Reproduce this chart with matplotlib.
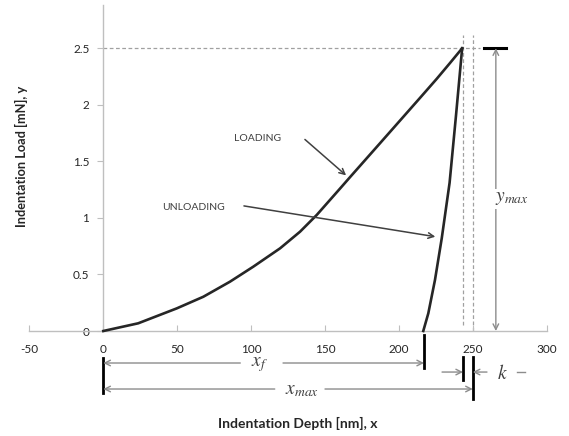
import matplotlib
matplotlib.use("Agg")
import matplotlib.pyplot as plt

plt.rcParams['font.family'] = ['Lato', 'DejaVu Sans']
plt.rcParams['mathtext.fontset'] = 'stix'

# ---- data ----
loading_x = [0, 23.6, 49.7, 67.7, 85.7, 101.5, 119.6, 133.1, 144.4, 160.2, 166.9,
             187.2, 200.7, 214.2, 225.6, 234.6, 242.8]
loading_y = [0, 0.068, 0.20, 0.303, 0.436, 0.569, 0.731, 0.878, 1.026, 1.26, 1.36,
             1.66, 1.86, 2.06, 2.23, 2.37, 2.5]
unloading_x = [242.8, 238.6, 234.3, 229.0, 224.4, 219.9, 216.5]
unloading_y = [2.5, 1.90, 1.31, 0.82, 0.45, 0.156, 0.0]
x_ticks = [-50, 0, 50, 100, 150, 200, 250, 300]
y_ticks = [0, 0.5, 1, 1.5, 2, 2.5]
y_tick_labels = ['0', '0.5', '1', '1.5', '2', '2.5']
x_max_val = 250
x_f_val = 217
peak_x = 243.4
y_max_val = 2.5

fig = plt.figure(figsize=(5.69, 4.36), dpi=100)
ax = fig.add_axes([0, 0, 1, 1])
ax.set_xlim(-69.9, 315.1)
ax.set_ylim(-0.9285, 2.927)
ax.patch.set_alpha(0)

axis_col = '#bfbfbf'
for s in ['top', 'right']:
    ax.spines[s].set_visible(False)
ax.spines['left'].set_position(('data', 0))
ax.spines['bottom'].set_position(('data', 0))
ax.spines['left'].set_bounds(0, 2.883)
ax.spines['bottom'].set_bounds(-50, 300)
ax.spines['left'].set_color(axis_col)
ax.spines['bottom'].set_color(axis_col)
ax.spines['left'].set_linewidth(1.0)
ax.spines['bottom'].set_linewidth(1.0)

ax.set_xticks(x_ticks)
ax.set_xticklabels([str(t) for t in x_ticks])
ax.set_yticks(y_ticks)
ax.set_yticklabels(y_tick_labels)
ax.tick_params(axis='x', direction='in', length=4, color=axis_col, pad=9,
               labelsize=8.5, labelcolor='#262626')
ax.tick_params(axis='y', direction='out', length=4, color=axis_col, pad=6,
               labelsize=8.5, labelcolor='#262626')

# guide dashed lines
dash_col = '#a0a0a0'
ax.plot([0, 255], [2.5, 2.5], ls=(0, (3, 2)), color=dash_col, lw=0.9, zorder=1)
ax.plot([peak_x, peak_x], [0.05, 2.62], ls=(0, (3, 2)), color=dash_col, lw=0.9, zorder=1)
ax.plot([x_max_val, x_max_val], [0.0, 2.62], ls=(0, (3, 2)), color=dash_col, lw=0.9, zorder=1)

# curves
ax.plot(loading_x, loading_y, color='#262626', lw=1.9, solid_joinstyle='round', zorder=3)
ax.plot(unloading_x, unloading_y, color='#262626', lw=1.9, solid_joinstyle='round', zorder=3)

# LOADING / UNLOADING labels
lab_col = '#404040'
ax.text(104.6, 1.70, 'LOADING', ha='center', va='center', fontsize=7.5, color=lab_col)
ax.annotate('', xy=(165.7, 1.36), xytext=(135, 1.71),
            arrowprops=dict(arrowstyle='->', color=lab_col, lw=1.1, mutation_scale=10))
ax.text(60.8, 1.095, 'UNLOADING', ha='center', va='center', fontsize=7.5, color=lab_col)
ax.annotate('', xy=(226.5, 0.83), xytext=(93.3, 1.11),
            arrowprops=dict(arrowstyle='->', color=lab_col, lw=1.1, mutation_scale=10))

# y_max dimension
dim_col = '#8c8c8c'
ax.plot([257.8, 272.7], [y_max_val, y_max_val], color='black', lw=2.2)
ax.annotate('', xy=(265.6, 0), xytext=(265.6, y_max_val),
            arrowprops=dict(arrowstyle='<->', color=dim_col, lw=1.0, mutation_scale=10,
                            shrinkA=0, shrinkB=0))
ax.text(276.5, 1.17, r'$y_{max}$', ha='center', va='center', fontsize=14, color='#404040',
        bbox=dict(facecolor='white', edgecolor='none', pad=1))

# bottom dimension bars
ax.plot([0, 0], [-0.239, -0.548], color='black', lw=2.0, clip_on=False)
ax.plot([x_f_val, x_f_val], [-0.035, -0.327], color='black', lw=2.0)
ax.plot([x_max_val, x_max_val], [-0.23, -0.60], color='black', lw=2.0)
ax.plot([peak_x, peak_x], [-0.23, -0.433], color='black', lw=2.0)

def split_arrow(x0, x1, gap0, gap1, y):
    ap = dict(arrowstyle='->', color=dim_col, lw=1.0, mutation_scale=10, shrinkA=0, shrinkB=0)
    ax.annotate('', xy=(x0, y), xytext=(gap0, y), arrowprops=ap)
    ax.annotate('', xy=(x1, y), xytext=(gap1, y), arrowprops=ap)

# x_f arrow
split_arrow(0, x_f_val, 92.7, 121.6, -0.283)
ax.text(106, -0.30, r'$x_f$', ha='center', va='center', fontsize=14, color='#404040')
# x_max arrow
split_arrow(0, x_max_val, 116, 150, -0.513)
ax.text(134.3, -0.53, r'$x_{max}$', ha='center', va='center', fontsize=14, color='#404040')
# k arrows
ax.annotate('', xy=(peak_x, -0.363), xytext=(229.2, -0.363),
            arrowprops=dict(arrowstyle='->', color=dim_col, lw=1.0, mutation_scale=10,
                            shrinkA=0, shrinkB=0))
ax.annotate('', xy=(x_max_val, -0.363), xytext=(259.6, -0.363),
            arrowprops=dict(arrowstyle='->', color=dim_col, lw=1.0, mutation_scale=10,
                            shrinkA=0, shrinkB=0))
ax.text(269.8, -0.37, r'$k$', ha='center', va='center', fontsize=14, color='#404040')
ax.plot([280, 285.3], [-0.363, -0.363], color=dim_col, lw=1.0)

# axis titles
ax.text(131.7, -0.814, 'Indentation Depth [nm], x', ha='center', va='center',
        fontsize=10, fontweight='bold', color='#262626')
fig.text(21.7 / 569, 1 - 156 / 436, 'Indentation Load [mN], y', rotation=90,
         ha='center', va='center', fontsize=9.2, fontweight='bold', color='#262626')

fig.savefig('out.png', dpi=100)
